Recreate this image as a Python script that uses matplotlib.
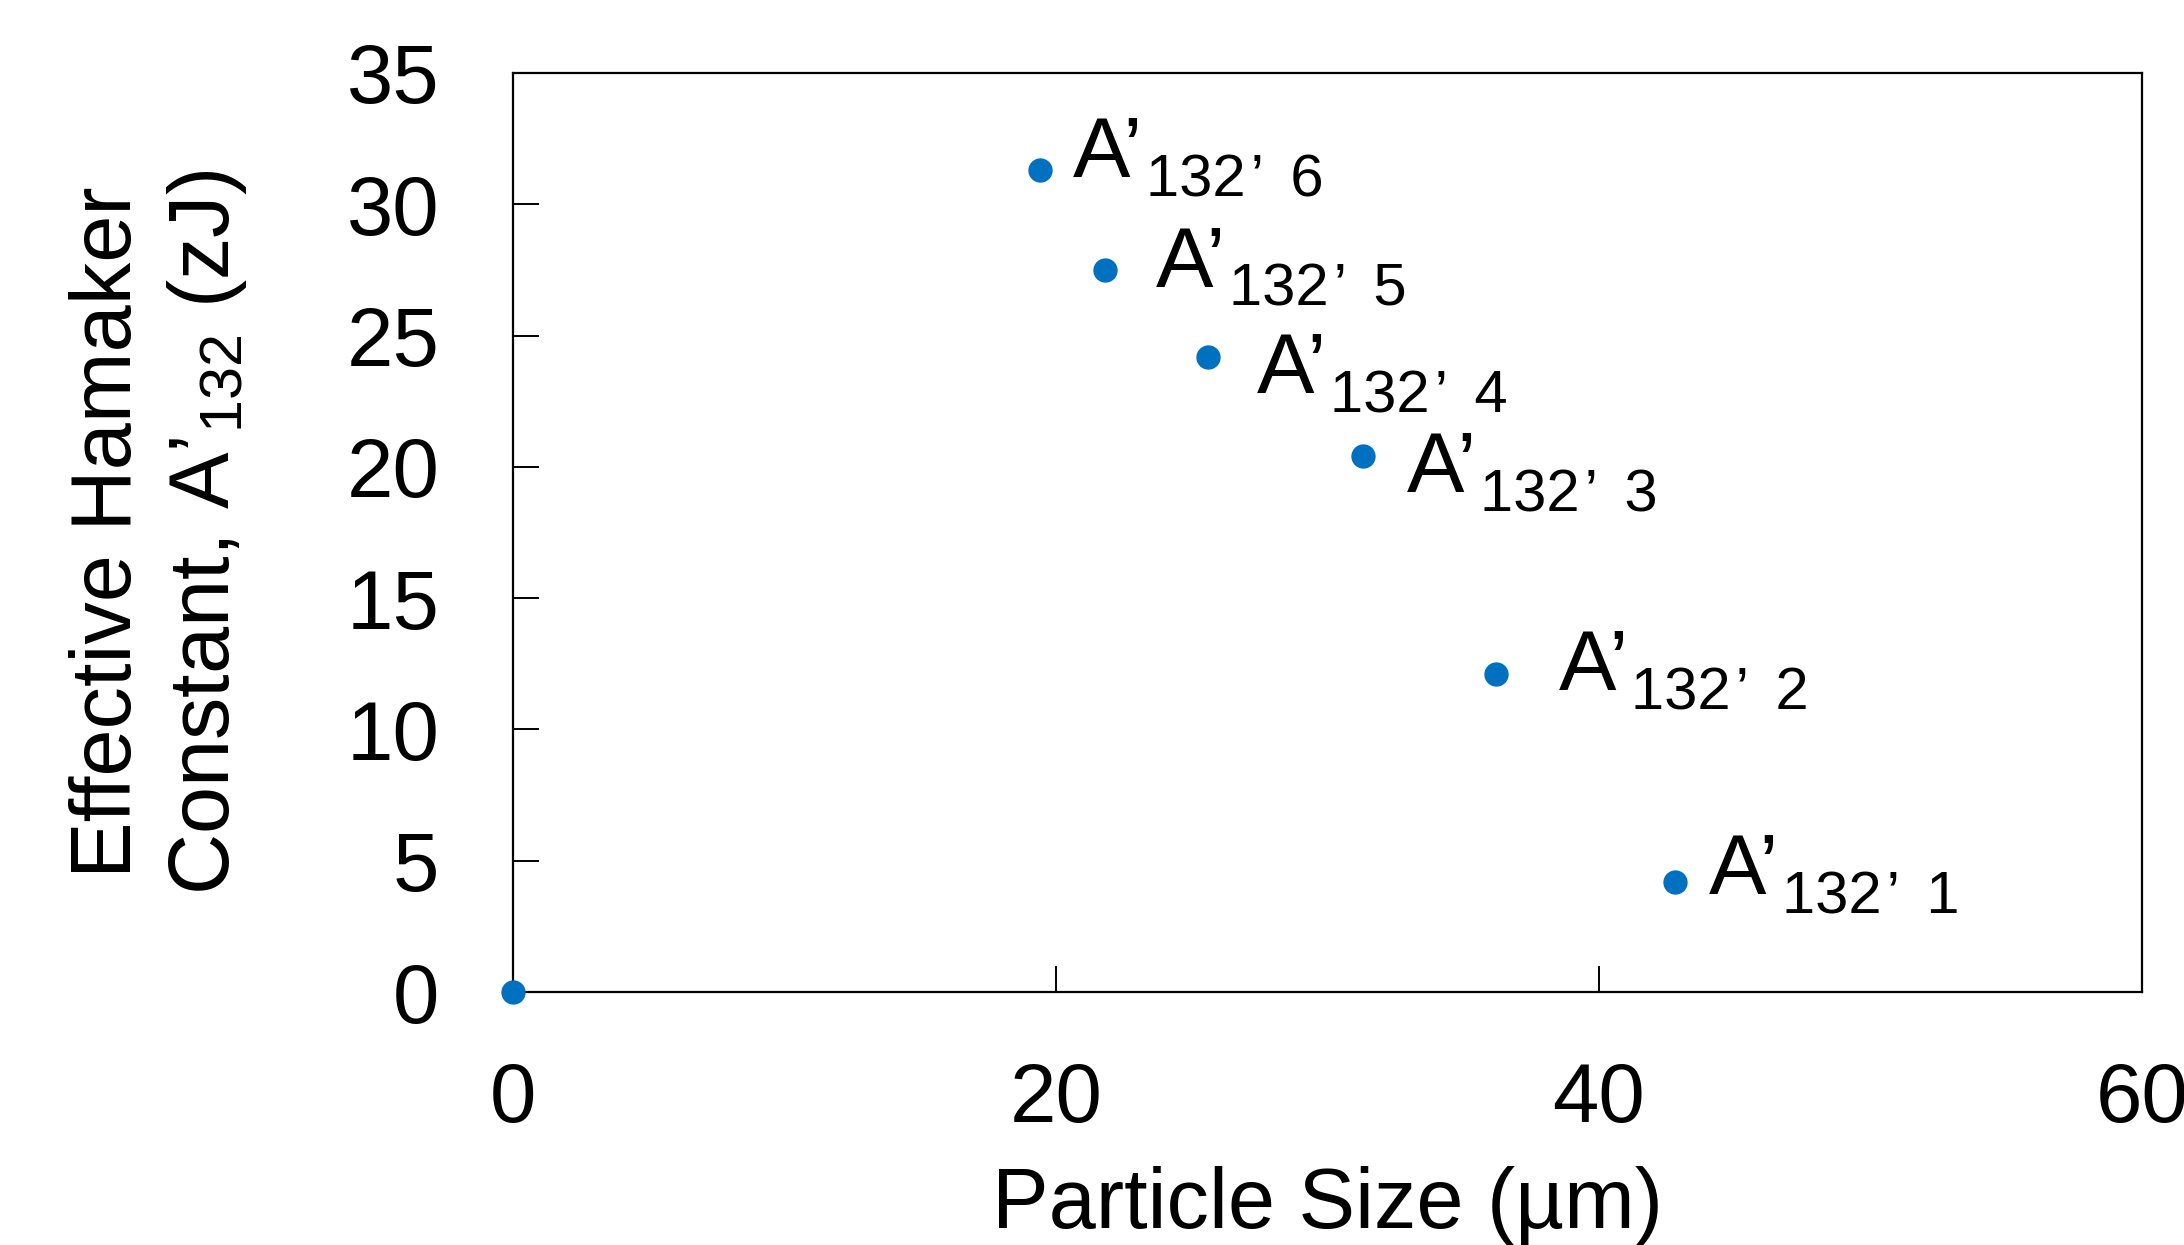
import matplotlib
matplotlib.use("Agg")
import matplotlib.pyplot as plt

# --- data ------------------------------------------------------------------
particle_size = [0.0, 19.4, 21.8, 25.6, 31.3, 36.2, 42.8]      # µm
hamaker = [0.0, 31.3, 27.5, 24.2, 20.4, 12.1, 4.2]             # zJ
point_labels = ["", "6", "5", "4", "3", "2", "1"]
x_ticks = [0, 20, 40, 60]
y_ticks = [0, 5, 10, 15, 20, 25, 30, 35]

# label offsets (points) from each marker to the label's baseline start
label_dx = [0, 24, 37, 35, 32, 45, 24]
label_dy = [0, -5, -12, -26, -26, -11.5, -9]

plt.rcParams["font.family"] = ["Liberation Sans", "DejaVu Sans"]
plt.rcParams["mathtext.fontset"] = "custom"
plt.rcParams["mathtext.rm"] = "Liberation Sans"
plt.rcParams["mathtext.it"] = "Liberation Sans"

BLUE = "#0070C0"

fig = plt.figure(figsize=(21.84, 12.45), dpi=100)
ax = fig.add_axes([513 / 2184, 1 - 992 / 1245, (2142 - 513) / 2184, (992 - 73) / 1245])

ax.plot(particle_size, hamaker, ls="none", marker="o", ms=16.5,
        color=BLUE, mec=BLUE, clip_on=False, zorder=3)

for x, y, lab, dx, dy in zip(particle_size, hamaker, point_labels, label_dx, label_dy):
    if not lab:
        continue
    main = ax.annotate("A’", (x, y), xytext=(dx, dy), textcoords="offset points",
                       ha="left", va="baseline", fontsize=62)
    # subscript hangs off the bottom-right corner of "A’" (bottom = baseline - descent)
    ax.annotate("132\u200a’ \u2009" + lab, xy=(1, 0), xycoords=main, xytext=(2, -1),
                textcoords="offset points", ha="left", va="baseline", fontsize=43)

ax.set_xlim(0, 60)
ax.set_ylim(0, 35)
ax.set_xticks(x_ticks)
ax.set_yticks(y_ticks)
ax.tick_params(direction="in", length=18.5, width=1.4, labelsize=60, colors="black")
ax.tick_params(axis="x", pad=50)
ax.tick_params(axis="y", pad=53)
for sp in ax.spines.values():
    sp.set_linewidth(1.6)

ax.set_xlabel("Particle Size (µm)", fontsize=61, va="baseline")
ax.xaxis.set_label_coords(0.5, (992 - 1228) / 919)

ax.text((131 - 513) / 1629, 0.5, "Effective Hamaker", transform=ax.transAxes,
        rotation=90, rotation_mode="anchor", ha="center", va="baseline", fontsize=61)
ax.text((229 - 513) / 1629, 0.5, "Constant, A’$_{\\mathregular{132}}$ (zJ)",
        transform=ax.transAxes, rotation=90, rotation_mode="anchor",
        ha="center", va="baseline", fontsize=61)

fig.savefig("out.png", dpi=100)
